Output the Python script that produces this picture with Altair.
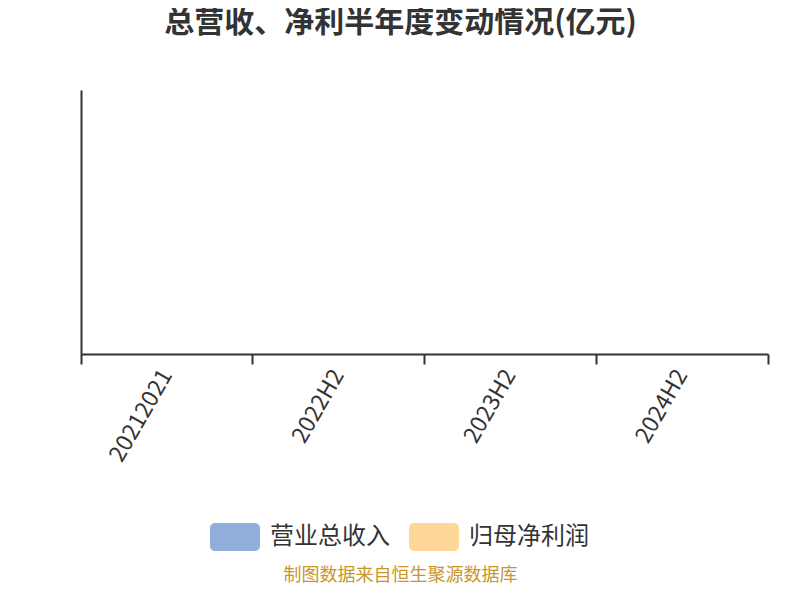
import altair as alt
import pandas as pd

categories = ["20212021", "2022H2", "2023H2", "2024H2"]
series = ["营业总收入", "归母净利润"]
revenue = [None, None, None, None]
profit = [None, None, None, None]
colors = ["#8FAEDB", "#FFD899"]
footer = "制图数据来自恒生聚源数据库"
title_text = "总营收、净利半年度变动情况(亿元)"

rows = []
for i, c in enumerate(categories):
    rows.append({"period": c, "series": series[0], "value": revenue[i]})
    rows.append({"period": c, "series": series[1], "value": profit[i]})
df = pd.DataFrame(rows)
df["value"] = df["value"].astype(float)

FONT = "Noto Sans CJK SC"
rect_path = ("M-0.8,-0.56H0.8A0.2,0.2 0 0 1 1,-0.36V0.36A0.2,0.2 0 0 1 0.8,0.56"
             "H-0.8A0.2,0.2 0 0 1 -1,0.36V-0.36A0.2,0.2 0 0 1 -0.8,-0.56Z")

chart = alt.Chart(df).mark_bar().encode(
    x=alt.X(
        "period:N",
        sort=categories,
        scale=alt.Scale(domain=categories, paddingInner=0, paddingOuter=0),
        axis=alt.Axis(
            title=footer,
            titleColor="#C9962A",
            titleFont=FONT,
            titleFontSize=18,
            titleFontWeight="normal",
            titleX=319,
            titleY=221,
            titleAlign="center",
            titleBaseline="middle",
            labelAngle=-60,
            labelFont=FONT,
            labelFontSize=23,
            labelColor="#333333",
            labelPadding=7,
            labelLimit=300,
            domainColor="#333333",
            domainWidth=2,
            tickColor="#333333",
            tickWidth=2,
            tickSize=10,
            bandPosition=1,
            tickExtra=True,
            grid=False,
        ),
    ),
    xOffset=alt.XOffset("series:N", sort=series),
    y=alt.Y(
        "value:Q",
        axis=alt.Axis(title=None, labels=False, ticks=False, grid=False,
                      domainColor="#333333", domainWidth=2),
    ),
    color=alt.Color(
        "series:N",
        scale=alt.Scale(domain=series, range=colors),
        legend=alt.Legend(
            title=None,
            orient="none",
            legendX=129,
            legendY=422,
            direction="horizontal",
            symbolType=rect_path,
            symbolSize=2500,
            symbolStrokeWidth=0,
            symbolOpacity=1,
            labelFont=FONT,
            labelFontSize=24,
            labelColor="#333333",
            labelOffset=10,
            labelLimit=300,
            columnPadding=19,
        ),
    ),
).properties(
    width=687,
    height=264,
    autosize="none",
    padding={"left": 73, "top": 82, "right": 20, "bottom": 232},
    title=alt.TitleParams(
        title_text,
        font=FONT,
        fontSize=30,
        fontWeight="bold",
        color="#333333",
        anchor="middle",
        dx=-24,
        offset=52,
    ),
).configure_view(stroke=None)

chart.save("out.html", embed_options={"renderer": "svg", "actions": False})
